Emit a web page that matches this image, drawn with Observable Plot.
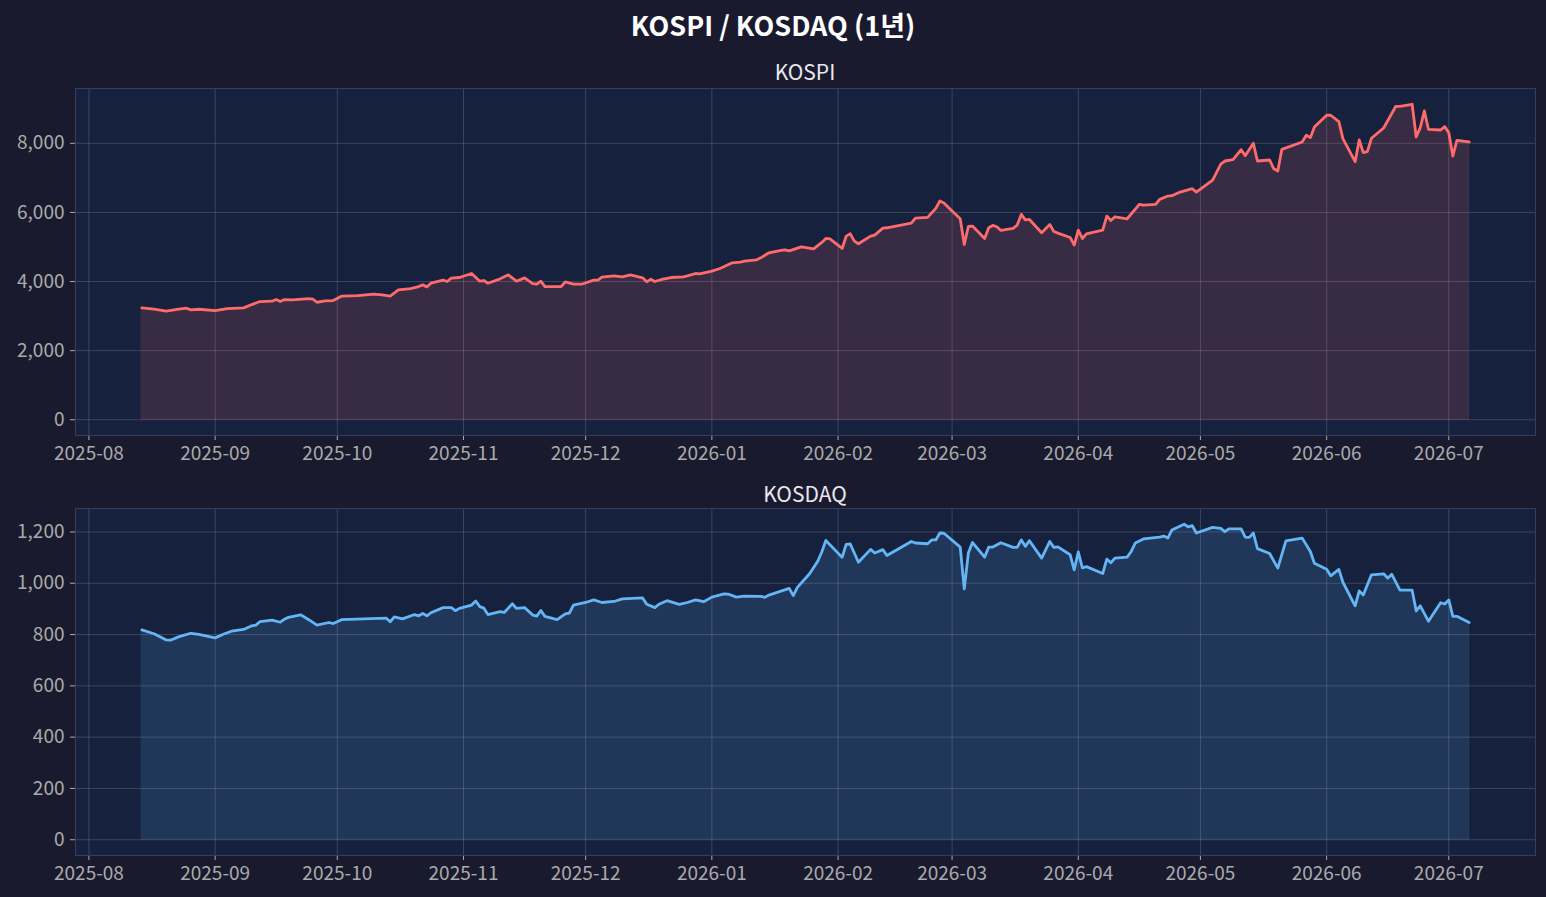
<!DOCTYPE html>
<html>
<head>
<meta charset="utf-8">
<script src="https://cdn.jsdelivr.net/npm/d3@7"></script>
<script src="https://cdn.jsdelivr.net/npm/@observablehq/plot@0.6"></script>
<style>
  html, body { margin: 0; padding: 0; background: #1a1a2e; }
  #wrap { position: relative; width: 1546px; height: 897px; background: #1a1a2e; overflow: hidden;
          font-family: "Noto Sans CJK KR", "Noto Sans", sans-serif; }
  .title { position: absolute; left: 0; width: 1546px; text-align: center; color: #ffffff;
           font-size: 27px; font-weight: bold; line-height: 30px; top: 10px; }
  .sub { position: absolute; left: 75px; width: 1460px; text-align: center; color: #e8e8ee;
         font-size: 21px; line-height: 28px; }
  .panel { position: absolute; left: 0; }
</style>
</head>
<body>
<div id="wrap">
  <div class="title">KOSPI / KOSDAQ (1년)</div>
  <div class="sub" style="top:57px">KOSPI</div>
  <div class="sub" style="top:479px">KOSDAQ</div>
  <div class="panel" id="p1" style="top:80px"></div>
  <div class="panel" id="p2" style="top:500px"></div>
</div>
<script>
// ---- data ----
const monthLabels = ["2025-08","2025-09","2025-10","2025-11","2025-12","2026-01","2026-02","2026-03","2026-04","2026-05","2026-06","2026-07"];
const kospiTicks = [0, 2000, 4000, 6000, 8000];
const kosdaqTicks = [0, 200, 400, 600, 800, 1000, 1200];

const kospiDates = ["2025-08-14","2025-08-17","2025-08-20","2025-08-23","2025-08-25","2025-08-26","2025-08-28","2025-09-01","2025-09-04","2025-09-08","2025-09-10","2025-09-12","2025-09-15","2025-09-16","2025-09-17","2025-09-18","2025-09-20","2025-09-24","2025-09-25","2025-09-26","2025-09-28","2025-09-30","2025-10-02","2025-10-06","2025-10-10","2025-10-12","2025-10-14","2025-10-16","2025-10-19","2025-10-21","2025-10-22","2025-10-23","2025-10-24","2025-10-27","2025-10-28","2025-10-29","2025-10-31","2025-11-03","2025-11-05","2025-11-06","2025-11-07","2025-11-10","2025-11-12","2025-11-14","2025-11-16","2025-11-18","2025-11-19","2025-11-20","2025-11-21","2025-11-25","2025-11-26","2025-11-28","2025-11-30","2025-12-03","2025-12-04","2025-12-05","2025-12-08","2025-12-10","2025-12-12","2025-12-15","2025-12-16","2025-12-17","2025-12-18","2025-12-20","2025-12-22","2025-12-25","2025-12-26","2025-12-28","2025-12-29","2026-01-01","2026-01-03","2026-01-06","2026-01-08","2026-01-09","2026-01-12","2026-01-13","2026-01-15","2026-01-18","2026-01-19","2026-01-20","2026-01-23","2026-01-26","2026-01-28","2026-01-29","2026-01-30","2026-02-02","2026-02-03","2026-02-04","2026-02-05","2026-02-06","2026-02-09","2026-02-10","2026-02-12","2026-02-13","2026-02-19","2026-02-20","2026-02-23","2026-02-25","2026-02-26","2026-02-27","2026-03-01","2026-03-03","2026-03-04","2026-03-05","2026-03-06","2026-03-09","2026-03-10","2026-03-11","2026-03-12","2026-03-13","2026-03-16","2026-03-17","2026-03-18","2026-03-19","2026-03-20","2026-03-23","2026-03-25","2026-03-26","2026-03-27","2026-03-30","2026-03-31","2026-04-01","2026-04-02","2026-04-03","2026-04-07","2026-04-08","2026-04-09","2026-04-10","2026-04-13","2026-04-16","2026-04-17","2026-04-20","2026-04-21","2026-04-23","2026-04-24","2026-04-26","2026-04-29","2026-04-30","2026-05-04","2026-05-06","2026-05-07","2026-05-09","2026-05-11","2026-05-12","2026-05-14","2026-05-15","2026-05-18","2026-05-19","2026-05-20","2026-05-21","2026-05-26","2026-05-27","2026-05-28","2026-05-29","2026-06-01","2026-06-02","2026-06-04","2026-06-05","2026-06-08","2026-06-09","2026-06-10","2026-06-11","2026-06-12","2026-06-15","2026-06-18","2026-06-19","2026-06-22","2026-06-23","2026-06-24","2026-06-25","2026-06-26","2026-06-29","2026-06-30","2026-07-01","2026-07-02","2026-07-03","2026-07-06"];
const kospiValues = [3237,3198,3140,3198,3227,3180,3198,3159,3217,3237,3333,3420,3430,3478,3420,3478,3468,3507,3488,3400,3440,3449,3575,3594,3633,3614,3575,3758,3797,3855,3903,3845,3951,4039,4000,4097,4116,4232,4010,4029,3951,4077,4193,4010,4106,3942,3922,4010,3855,3855,3990,3922,3922,4039,4039,4126,4164,4135,4193,4106,3990,4068,4000,4068,4116,4135,4164,4232,4222,4300,4377,4541,4560,4589,4628,4686,4831,4899,4918,4889,5005,4947,5130,5246,5236,4957,5314,5381,5169,5092,5314,5343,5546,5556,5691,5836,5855,6116,6329,6271,6039,5816,5072,5594,5604,5246,5556,5623,5585,5478,5536,5633,5942,5787,5797,5410,5652,5449,5401,5275,5053,5488,5246,5381,5488,5894,5768,5874,5816,6232,6213,6232,6377,6473,6483,6589,6686,6589,6937,7401,7488,7527,7816,7643,8000,7488,7517,7266,7198,7826,8039,8232,8164,8473,8812,8812,8628,8135,7469,8097,7729,7758,8145,8444,9072,9072,9130,8184,8454,8937,8406,8386,8483,8309,7633,8087,8039];

const kosdaqDates = ["2025-08-14","2025-08-17","2025-08-20","2025-08-21","2025-08-23","2025-08-26","2025-08-28","2025-09-01","2025-09-03","2025-09-05","2025-09-08","2025-09-10","2025-09-11","2025-09-12","2025-09-15","2025-09-17","2025-09-18","2025-09-19","2025-09-22","2025-09-24","2025-09-26","2025-09-29","2025-09-30","2025-10-01","2025-10-02","2025-10-13","2025-10-14","2025-10-15","2025-10-17","2025-10-20","2025-10-21","2025-10-22","2025-10-23","2025-10-24","2025-10-27","2025-10-29","2025-10-30","2025-10-31","2025-11-03","2025-11-04","2025-11-05","2025-11-06","2025-11-07","2025-11-10","2025-11-11","2025-11-13","2025-11-14","2025-11-16","2025-11-18","2025-11-19","2025-11-20","2025-11-21","2025-11-24","2025-11-26","2025-11-27","2025-11-28","2025-12-01","2025-12-03","2025-12-05","2025-12-08","2025-12-10","2025-12-15","2025-12-16","2025-12-18","2025-12-19","2025-12-21","2025-12-24","2025-12-26","2025-12-28","2025-12-30","2026-01-01","2026-01-04","2026-01-05","2026-01-07","2026-01-09","2026-01-13","2026-01-14","2026-01-15","2026-01-20","2026-01-21","2026-01-22","2026-01-25","2026-01-27","2026-01-28","2026-01-29","2026-02-02","2026-02-03","2026-02-04","2026-02-06","2026-02-09","2026-02-10","2026-02-12","2026-02-13","2026-02-19","2026-02-20","2026-02-23","2026-02-24","2026-02-25","2026-02-26","2026-02-27","2026-03-03","2026-03-04","2026-03-05","2026-03-06","2026-03-09","2026-03-10","2026-03-11","2026-03-13","2026-03-16","2026-03-17","2026-03-18","2026-03-19","2026-03-20","2026-03-23","2026-03-25","2026-03-26","2026-03-27","2026-03-30","2026-03-31","2026-04-01","2026-04-02","2026-04-03","2026-04-07","2026-04-08","2026-04-09","2026-04-10","2026-04-13","2026-04-14","2026-04-15","2026-04-17","2026-04-21","2026-04-22","2026-04-23","2026-04-24","2026-04-27","2026-04-28","2026-04-29","2026-04-30","2026-05-04","2026-05-06","2026-05-07","2026-05-08","2026-05-11","2026-05-12","2026-05-13","2026-05-14","2026-05-15","2026-05-18","2026-05-20","2026-05-22","2026-05-26","2026-05-28","2026-05-29","2026-06-01","2026-06-02","2026-06-04","2026-06-05","2026-06-08","2026-06-09","2026-06-10","2026-06-12","2026-06-15","2026-06-16","2026-06-17","2026-06-19","2026-06-22","2026-06-23","2026-06-24","2026-06-26","2026-06-29","2026-06-30","2026-07-01","2026-07-02","2026-07-03","2026-07-06"];
const kosdaqValues = [818,803,779,778,791,805,801,787,801,813,820,834,837,850,856,848,860,867,877,858,837,847,843,850,858,864,850,869,861,878,873,882,873,885,905,905,893,902,915,931,909,903,878,889,886,920,902,905,876,872,894,871,858,881,884,915,925,935,925,929,939,943,918,905,918,932,918,925,935,928,946,959,958,946,950,949,945,954,980,952,984,1037,1086,1122,1167,1101,1152,1153,1082,1132,1118,1131,1108,1163,1157,1154,1169,1169,1196,1195,1141,978,1118,1159,1102,1141,1141,1158,1140,1140,1169,1144,1166,1098,1163,1140,1142,1111,1052,1122,1060,1065,1038,1094,1080,1098,1102,1124,1157,1173,1180,1184,1176,1208,1230,1220,1225,1196,1218,1214,1201,1212,1212,1180,1179,1196,1135,1116,1059,1165,1176,1124,1078,1055,1029,1054,1004,912,970,954,1033,1037,1020,1035,973,973,892,912,852,924,919,935,871,871,847];

// ---- chart ----
const parse = d3.utcParse("%Y-%m-%d");
const monthTicks = monthLabels.map(m => parse(m + "-01"));
const FONT = '"Noto Sans CJK KR", "Noto Sans", sans-serif';

function panel(dates, values, color, yTicks) {
  const data = dates.map((d, i) => ({date: parse(d), value: values[i]}));
  const [x0, x1] = d3.extent(data, d => d.date);
  const xpad = (x1 - x0) * 0.05;
  const ymax = d3.max(data, d => d.value);
  const ypad = ymax * 0.05;
  return Plot.plot({
    width: 1546,
    height: 395,
    marginLeft: 75,
    marginRight: 11,
    marginTop: 8,
    marginBottom: 40,
    style: {background: "transparent", color: "#aaaaaa", fontFamily: FONT, fontSize: "19px", overflow: "visible"},
    x: {type: "utc", domain: [new Date(+x0 - xpad), new Date(+x1 + xpad)]},
    y: {domain: [-ypad, ymax + ypad]},
    marks: [
      Plot.frame({fill: "#16213e", stroke: null}),
      Plot.gridX(monthTicks, {stroke: "#ffffff", strokeOpacity: 0.16, strokeWidth: 1}),
      Plot.gridY(yTicks, {stroke: "#ffffff", strokeOpacity: 0.16, strokeWidth: 1}),
      Plot.areaY(data, {x: "date", y: "value", fill: color, fillOpacity: 0.15, stroke: color, strokeOpacity: 0.15, strokeWidth: 1}),
      Plot.lineY(data, {x: "date", y: "value", stroke: color, strokeWidth: 2.8, strokeLinejoin: "round"}),
      Plot.axisX(monthTicks, {tickFormat: d3.utcFormat("%Y-%m"), tickSize: 5, tickPadding: 6, stroke: "#aaaaaa", fill: "#aaaaaa", fontSize: 19, label: null}),
      Plot.axisY(yTicks, {tickFormat: d3.format(","), tickSize: 5, tickPadding: 6, stroke: "#aaaaaa", fill: "#aaaaaa", fontSize: 19, label: null}),
      Plot.frame({stroke: "#3b3b5e", strokeWidth: 1})
    ]
  });
}

document.getElementById("p1").appendChild(panel(kospiDates, kospiValues, "#ff6b6b", kospiTicks));
document.getElementById("p2").appendChild(panel(kosdaqDates, kosdaqValues, "#64b5f6", kosdaqTicks));
</script>
</body>
</html>
